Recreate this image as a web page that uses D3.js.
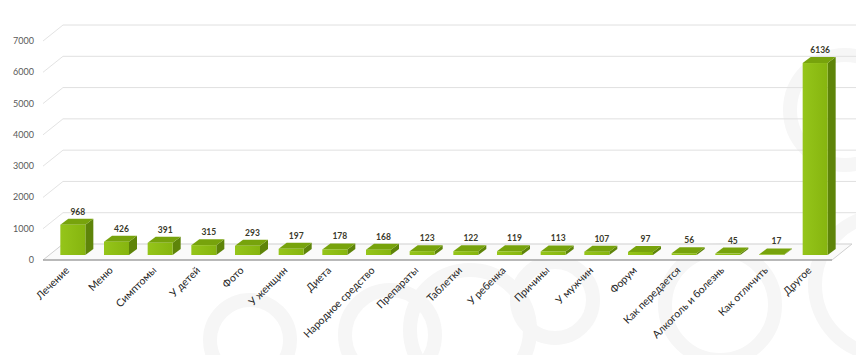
<!DOCTYPE html>
<html><head><meta charset="utf-8">
<script src="https://cdn.jsdelivr.net/npm/d3@7"></script>
<style>body{margin:0;background:#fff}svg{display:block}</style>
</head><body>
<script>
const categories = ["Лечение","Меню","Симптомы","У детей","Фото","У женщин","Диета","Народное средство","Препараты","Таблетки","У ребенка","Причины","У мужчин","Форум","Как передается","Алкоголь и болезнь","Как отличить","Другое"];
const values = [968,426,391,315,293,197,178,168,123,122,119,113,107,97,56,45,17,6136];
const yTicks = [0,1000,2000,3000,4000,5000,6000,7000];

const W=856,H=355;
const svg=d3.select("body").append("svg").attr("width",W).attr("height",H);

const rings=[[470,330,60],[555,300,38],[720,305,55],[845,110,55],[390,335,45],[885,285,70],[250,340,40]];
svg.append("g").selectAll("circle").data(rings).join("circle")
  .attr("cx",d=>d[0]).attr("cy",d=>d[1]).attr("r",d=>d[2])
  .attr("fill","none").attr("stroke","#f6f6f6").attr("stroke-width",14);

const floorFront=260, floorX0=43, floorX1=832, depthX=20, depthY=-16;
const h=d3.scaleLinear().domain([0,7000]).range([0,219]);
const x=d3.scaleBand().domain(categories).range([51,837]);

const g=svg.append("g");
yTicks.forEach(t=>{
  const yb=floorFront+depthY-h(t);
  if(t>0){
    g.append("line").attr("x1",floorX0+depthX).attr("x2",W).attr("y1",yb).attr("y2",yb)
      .attr("stroke","#e0e0e0").attr("stroke-width",1);
    g.append("line").attr("x1",floorX0).attr("y1",floorFront-h(t)).attr("x2",floorX0+depthX).attr("y2",yb)
      .attr("stroke","#e3e3e3").attr("stroke-width",1);
  }
  g.append("text").attr("x",34).attr("y",floorFront-h(t)+3).attr("text-anchor","end")
    .attr("font-family","Lato, 'Open Sans', sans-serif").attr("font-size",9).attr("fill","#595959").text(t);
});
g.append("path").attr("d",`M${floorX0},${floorFront}L${floorX0+depthX},${floorFront+depthY}L${floorX1+depthX},${floorFront+depthY}L${floorX1},${floorFront}Z`)
  .attr("fill","#fafafa").attr("stroke","#cfcfcf").attr("stroke-width",1);
g.append("line").attr("x1",floorX0).attr("x2",floorX1).attr("y1",floorFront).attr("y2",floorFront)
  .attr("stroke","#8c8c8c").attr("stroke-width",1.2);

const bw=25, bdx=8, bdy=-6, base=255;
const defs=svg.append("defs");
const lg=defs.append("linearGradient").attr("id","front").attr("x1",0).attr("x2",1);
lg.append("stop").attr("offset","0").attr("stop-color","#95c51a");
lg.append("stop").attr("offset","1").attr("stop-color","#86b50f");

const bars=svg.append("g").selectAll("g").data(categories.map((c,i)=>({c,v:values[i]}))).join("g");
bars.each(function(d){
  const sel=d3.select(this);
  const cx=x(d.c)+x.bandwidth()/2;
  const x0=cx-bw/2, x1=cx+bw/2, yt=base-h(d.v);
  sel.append("path").attr("d",`M${x1},${base}L${x1+bdx},${base+bdy}L${x1+bdx},${yt+bdy}L${x1},${yt}Z`).attr("fill","#5e8409");
  sel.append("path").attr("d",`M${x0},${yt}L${x0+bdx},${yt+bdy}L${x1+bdx},${yt+bdy}L${x1},${yt}Z`).attr("fill","#77a30c");
  sel.append("rect").attr("x",x0).attr("y",yt).attr("width",bw).attr("height",h(d.v)).attr("fill","url(#front)");
  sel.append("text").attr("x",cx+5).attr("y",yt+bdy-4).attr("text-anchor","middle")
    .attr("font-family","Lato, 'Open Sans', sans-serif").attr("font-size",8.5).attr("font-weight","bold")
    .attr("fill","#3a3a2a").text(d.v);
  sel.append("text").attr("transform",`translate(${cx-3},${271}) rotate(-45)`).attr("text-anchor","end")
    .attr("font-family","Lato, 'Open Sans', sans-serif").attr("font-size",10.5).attr("fill","#262626").text(d.c);
});
</script>
</body></html>
